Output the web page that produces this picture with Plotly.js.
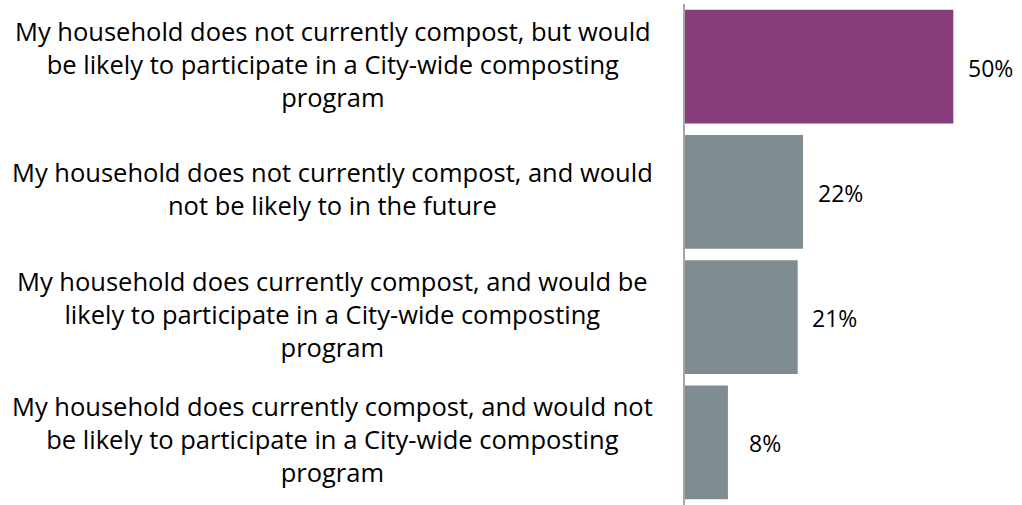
<!DOCTYPE html>
<html><head><meta charset="utf-8">
<script src="https://cdn.plot.ly/plotly-3.0.1.min.js"></script>
<style>html,body{margin:0;padding:0;background:#fff}</style>
</head><body>
<div id="chart" style="width:1022px;height:505px"></div>
<script>
var categories = [
  "My household does not currently compost, but would<br>be likely to participate in a City-wide composting<br>program",
  "My household does not currently compost, and would<br>not be likely to in the future",
  "My household does currently compost, and would be<br>likely to participate in a City-wide composting<br>program",
  "My household does currently compost, and would not<br>be likely to participate in a City-wide composting<br>program"
];
var values = [50, 22, 21, 8];
var valueLabels = ["50%", "22%", "21%", "8%"];
var barColors = ["#873C7C", "#7F8C90", "#7F8C90", "#7F8C90"];

var ids = categories.map(function(c, i){ return "c" + i; });
var FONT = "'Open Sans', sans-serif";

var trace = {
  type: "bar", orientation: "h",
  x: values, y: ids,
  marker: {color: barColors},
  hoverinfo: "none", width: 0.91
};

var annotations = categories.map(function(c, i){
  return {xref: "paper", yref: "y", x: -1.045, y: ids[i], text: c,
    xanchor: "center", yanchor: "middle", align: "center", showarrow: false, yshift: 3,
    font: {family: FONT, size: 25.5, color: "#000"}};
});
values.forEach(function(v, i){
  annotations.push({xref: "x", yref: "y", x: v, y: ids[i], text: valueLabels[i],
    xanchor: "center", yanchor: "middle", xshift: 37, yshift: -1, showarrow: false,
    font: {family: FONT, size: 23, color: "#000"}});
});

var layout = {
  width: 1022, height: 505,
  margin: {l: 685, r: 0, t: 4, b: 0},
  paper_bgcolor: "#fff", plot_bgcolor: "#fff",
  showlegend: false,
  xaxis: {range: [0, 62.8], visible: false, fixedrange: true},
  yaxis: {autorange: "reversed", showticklabels: false, showgrid: false, zeroline: false,
    showline: true, linecolor: "#A6A6A6", linewidth: 2, ticks: "", fixedrange: true},
  annotations: annotations
};
Plotly.newPlot("chart", [trace], layout, {displayModeBar: false, staticPlot: true});
</script>
</body></html>
